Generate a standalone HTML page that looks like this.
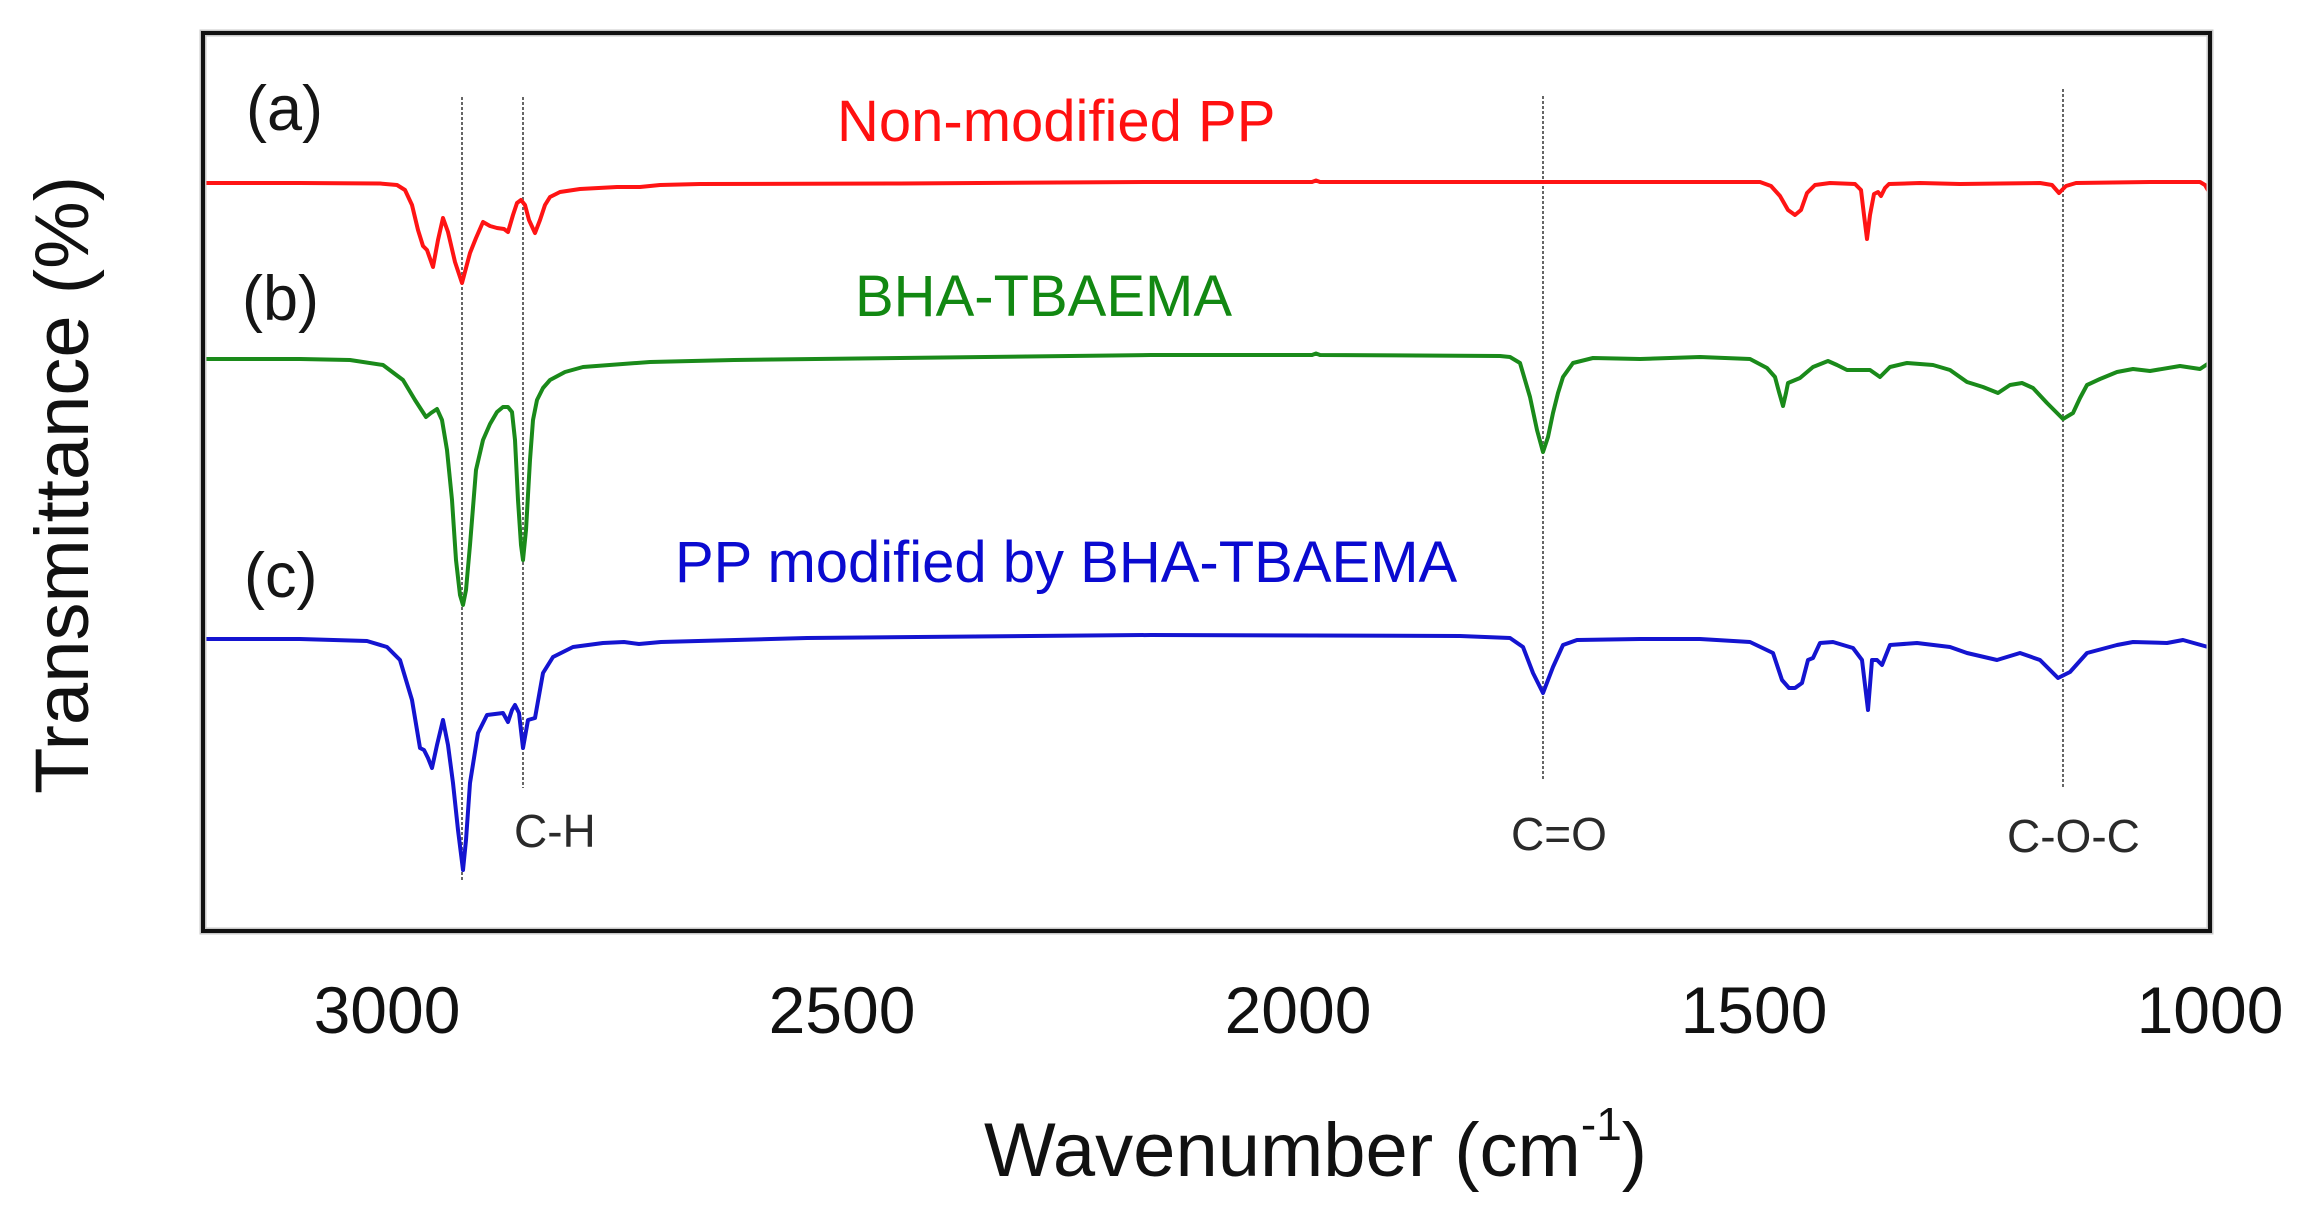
<!DOCTYPE html>
<html>
<head>
<meta charset="utf-8">
<style>
  html, body { margin: 0; padding: 0; background: #ffffff; }
  body { width: 2302px; height: 1230px; overflow: hidden; }
  svg { display: block; }
  text { font-family: "Liberation Sans", Arial, sans-serif; }
</style>
</head>
<body>
<svg width="2302" height="1230" viewBox="0 0 2302 1230" xmlns="http://www.w3.org/2000/svg">
  <rect x="0" y="0" width="2302" height="1230" fill="#ffffff"/>

  <!-- dashed marker lines -->
  <g stroke="#666" stroke-width="2" stroke-dasharray="3,2" fill="none">
    <line x1="462" y1="97" x2="462" y2="880"/>
    <line x1="523" y1="97" x2="523" y2="788"/>
    <line x1="1543" y1="96" x2="1543" y2="780"/>
    <line x1="2063" y1="89" x2="2063" y2="788"/>
  </g>

  <!-- (a) red -->
  <polyline fill="none" stroke="#ff1414" stroke-width="4" stroke-linejoin="round" stroke-linecap="round" points="
203,183 300,183 380,183.5 397,185 405,190 412,205 418,230 423,246 427,250 433,267 438,240 443,218 448,232 455,262 462,283 466,268 470,253 476,238 483,222 490,226 497,228 504,229 508,232 513,215 517,203 521,200 525,205 529,220 535,233 540,220 545,205 550,197 560,192 580,189 617,187 640,187 660,185 700,184 900,183.5 1151,182 1312,182 1316,180.5 1320,182 1500,182 1760,182 1771,186 1780,196 1788,210 1795,215 1801,210 1807,193 1815,185 1830,183 1855,184 1861,190 1864,215 1867,239 1870,215 1874,194 1878,192 1881,196 1885,188 1889,184 1920,183 1960,184 2000,183.5 2040,183 2052,185 2059,193 2066,186 2076,183 2150,182 2200,182 2205,185 2209,192"/>

  <!-- (b) green -->
  <polyline fill="none" stroke="#1a8a1a" stroke-width="4" stroke-linejoin="round" stroke-linecap="round" points="
203,359 300,359 350,360 383,365 403,380 415,400 426,417 431,413 437,409 442,420 447,450 452,500 456,560 460,595 463,605 466,590 470,545 476,470 483,440 490,424 497,412 503,407 508,407 512,412 515,440 518,500 521,545 523,560 526,530 530,460 533,420 537,400 543,388 550,380 565,372 583,367 650,362 734,360 900,358 1151,355 1312,355 1316,353.5 1320,355 1500,356 1510,357 1520,363 1530,397 1537,430 1543,452 1548,437 1553,413 1558,393 1563,377 1573,363 1593,358 1640,359 1700,357 1750,359 1767,368 1775,377 1779,392 1783,406 1786,393 1788,383 1800,378 1813,367 1828,361 1837,365 1847,370 1870,370 1880,377 1890,367 1907,363 1933,365 1950,370 1967,382 1983,387 1998,393 2010,385 2022,383 2033,388 2047,403 2063,419 2073,413 2080,398 2087,385 2100,379 2117,372 2133,369 2150,371 2180,366 2200,369 2209,363"/>

  <!-- (c) blue -->
  <polyline fill="none" stroke="#1414d0" stroke-width="4" stroke-linejoin="round" stroke-linecap="round" points="
203,639 300,639 367,641 387,647 400,660 412,700 420,748 424,750 428,758 432,768 437,745 443,720 448,745 453,783 458,830 463,870 466,840 470,783 478,733 487,715 503,713 508,722 512,710 515,705 519,713 523,748 528,720 535,718 543,673 553,657 573,647 603,643 624,642 639,644 661,642 807,638 1151,635 1460,636 1510,638 1523,647 1533,673 1543,693 1553,667 1563,645 1577,640 1640,639 1700,639 1750,642 1773,653 1782,680 1789,688 1795,688 1802,683 1808,660 1813,658 1820,643 1833,642 1853,648 1862,660 1865,685 1868,710 1870,685 1872,660 1877,660 1882,665 1890,645 1917,643 1950,647 1967,653 1997,660 2020,653 2040,660 2058,678 2070,672 2087,653 2117,645 2133,642 2167,643 2183,640 2208,647"/>

  <!-- plot frame -->
  <rect x="203" y="33" width="2007" height="898" fill="none" stroke="#c8c8c8" stroke-width="7"/>
  <rect x="203" y="33" width="2007" height="898" fill="none" stroke="#111" stroke-width="4"/>

  <!-- series labels -->
  <text x="246" y="130" font-size="63" fill="#151515">(a)</text>
  <text x="242" y="320" font-size="63" fill="#151515">(b)</text>
  <text x="244" y="597" font-size="63" fill="#151515">(c)</text>

  <text x="837" y="141" font-size="58" fill="#ff1010">Non-modified PP</text>
  <text x="855" y="316" font-size="58" fill="#128812">BHA-TBAEMA</text>
  <text x="675" y="582" font-size="58" fill="#0a0ad0">PP modified by BHA-TBAEMA</text>

  <!-- band annotations -->
  <text x="514" y="847" font-size="46" fill="#2a2a2a">C-H</text>
  <text x="1511" y="850" font-size="46" fill="#2a2a2a">C=O</text>
  <text x="2007" y="852" font-size="46" fill="#2a2a2a">C-O-C</text>

  <!-- x tick labels -->
  <g font-size="66" fill="#111" text-anchor="middle">
    <text x="387" y="1033">3000</text>
    <text x="842" y="1033">2500</text>
    <text x="1298" y="1033">2000</text>
    <text x="1754" y="1033">1500</text>
    <text x="2210" y="1033">1000</text>
  </g>

  <!-- axis titles -->
  <text x="984" y="1176" font-size="76" fill="#111">Wavenumber (cm<tspan font-size="46" dy="-36">-1</tspan><tspan font-size="76" dy="36">)</tspan></text>
  <text transform="translate(88,485) rotate(-90)" font-size="76" fill="#111" text-anchor="middle">Transmittance (%)</text>
</svg>
</body>
</html>
